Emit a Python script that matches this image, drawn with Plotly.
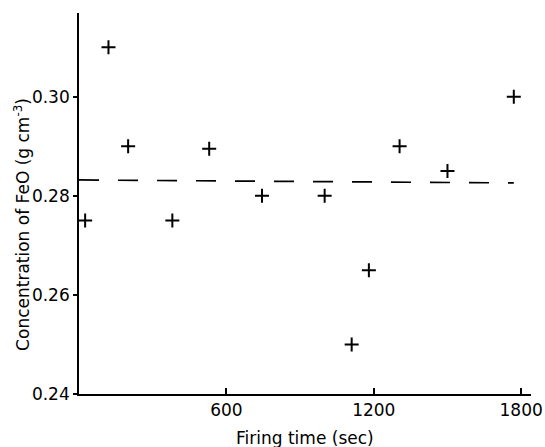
import plotly.graph_objects as go

# Measured FeO concentration against firing time
firing_time = [25, 120, 200, 380, 530, 745, 1000, 1110, 1180, 1305, 1500, 1770]
feo_conc = [0.275, 0.310, 0.290, 0.275, 0.2895, 0.280, 0.280, 0.250, 0.265, 0.290, 0.285, 0.300]

# Mean level (dashed line)
mean_x = [0, 1770]
mean_y = [0.2832, 0.2826]

x_ticks = [600, 1200, 1800]
y_ticks = [0.24, 0.26, 0.28, 0.30]
y_tick_text = ["0.24", "0.26", "0.28", "0.30"]

font_family = "DejaVu Sans"

fig = go.Figure()

fig.add_trace(go.Scatter(
    x=mean_x, y=mean_y, mode="lines",
    line=dict(color="black", width=1.7, dash="20px,19px"),
    hoverinfo="skip", showlegend=False,
))

fig.add_trace(go.Scatter(
    x=firing_time, y=feo_conc, mode="markers",
    marker=dict(symbol="cross-thin", size=10, color="black",
                line=dict(color="black", width=2)),
    showlegend=False,
))

fig.update_layout(
    width=545, height=447,
    margin=dict(l=79, r=14, t=13, b=53),
    paper_bgcolor="white", plot_bgcolor="white",
    font=dict(family=font_family, size=17, color="black"),
)

fig.update_xaxes(
    range=[0, 1840], automargin=False,
    tickvals=x_ticks, ticktext=[str(v) for v in x_ticks],
    ticks="inside", ticklen=6, tickwidth=1.5, tickcolor="black",
    showline=True, linecolor="black", linewidth=1.7,
    showgrid=False, zeroline=False,
    tickfont=dict(size=17),
)

fig.update_yaxes(
    range=[0.24, 0.3169], automargin=False,
    tickvals=y_ticks, ticktext=y_tick_text,
    ticks="outside", ticklen=4, tickwidth=1.5, tickcolor="black",
    showline=True, linecolor="black", linewidth=1.7,
    showgrid=False, zeroline=False,
    tickfont=dict(size=17),
)

# Axis titles placed as annotations
fig.add_annotation(
    text="Firing time (sec)",
    xref="paper", yref="paper", x=0.5, y=-0.115,
    xanchor="center", yanchor="middle",
    showarrow=False, font=dict(size=17),
)
fig.add_annotation(
    text="Concentration of FeO (g cm<sup>-3</sup>)",
    xref="paper", yref="paper", x=-0.126, y=0.444,
    xanchor="center", yanchor="middle", textangle=-90,
    showarrow=False, font=dict(size=17),
)

fig.write_html("out.html")
